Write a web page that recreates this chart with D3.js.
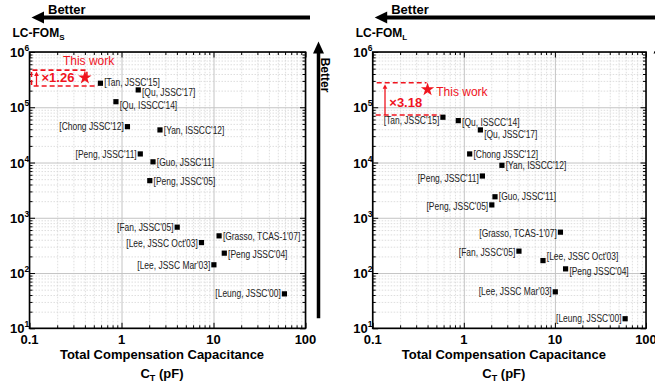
<!DOCTYPE html>
<html><head><meta charset="utf-8">
<script src="https://cdn.jsdelivr.net/npm/d3@7"></script>
<style>body{margin:0;background:#fff}svg{display:block}</style>
</head><body><svg id="c" width="655" height="384"></svg>
<script>
// ---------------- data ----------------
const refs = ["[Tan, JSSC'15]", "[Qu, ISSCC'14]", "[Qu, JSSC'17]", "[Chong JSSC'12]", "[Yan, ISSCC'12]",
  "[Peng, JSSC'11]", "[Guo, JSSC'11]", "[Peng, JSSC'05]", "[Fan, JSSC'05]", "[Grasso, TCAS-1'07]",
  "[Lee, JSSC Oct'03]", "[Peng JSSC'04]", "[Lee, JSSC Mar'03]", "[Leung, JSSC'00]"];
const ctPF = [0.59, 0.87, 1.52, 1.16, 2.62, 1.6, 2.2, 2.03, 4.03, 11.5, 7.4, 13.1, 10.1, 59];
const fomS = [2.72e5, 1.26e5, 2.06e5, 4.46e4, 3.89e4, 1.43e4, 1.03e4, 4.7e3, 676, 471, 356, 229, 141, 42];
const fomL = [6.6e4, 5.73e4, 3.89e4, 1.43e4, 8.9e3, 5.7e3, 2.4e3, 1.71e3, 249, 549, 168, 119, 45.7, 14.9];
const thisWorkCT = 0.4;
const thisWorkS = 3.43e5;
const thisWorkL = 2.1e5;
const ratioS = "×1.26";
const ratioL = "×3.18";
const xTicks = [0.1, 1, 10, 100];
const xTickLabels = ["0.1", "1", "10", "100"];
const yTicks = [10, 100, 1e3, 1e4, 1e5, 1e6];
const yTickExps = ["1", "2", "3", "4", "5", "6"];

// label layout (side of marker, vertical nudge)
const sideS = ["r","r","r","l","r","l","r","r","l","r","l","r","l","l"];
const nudgeS = [-1, 3.5, 2.5, 0, 0.5, 0.5, 0.5, 1, 0, 0.5, 1.2, 1, 0.5, 0];
const sideL = ["l","r","r","r","r","l","r","l","l","l","r","r","l","l"];
const nudgeL = [2.7, 2, 4, 0, 0, 2, 0, 1, 1, 1, -4, 2.7, 0, 0];

// ---------------- drawing ----------------
const svg = d3.select("#c");
const RED = "#f0141e";
const BOLD = "'Liberation Sans', Arial, sans-serif";

// narrow font detection
let narrowOK = false;
{
  const t1 = svg.append("text").style("font-family", "'Liberation Sans Narrow'").style("font-size", "10px").text("[Tan, JSSC'15]");
  const t2 = svg.append("text").style("font-family", "'Liberation Sans'").style("font-size", "10px").text("[Tan, JSSC'15]");
  narrowOK = t1.node().getComputedTextLength() < 0.9 * t2.node().getComputedTextLength();
  t1.remove(); t2.remove();
}

function minorVals(lo, hi) {
  const out = [];
  for (let d = lo; d < hi; d *= 10) for (let k = 2; k <= 9; k++) out.push(d * k);
  return out;
}

function arrowHeadPath(tx, ty, dir, len, half) {
  if (dir === "left") return `M${tx},${ty}L${tx + len},${ty - half}L${tx + len},${ty + half}Z`;
  return `M${tx},${ty}L${tx - half},${ty + len}L${tx + half},${ty + len}Z`;
}

function panel(opt) {
  const { x0, x1, y0, y1, fom, side, nudge, tw, ratio, sub, annot } = opt;
  const g = svg.append("g");
  const x = d3.scaleLog().domain([0.1, 100]).range([x0, x1]);
  const y = d3.scaleLog().domain([10, 1e6]).range([y1, y0]);
  const W = x1 - x0, H = y1 - y0;
  const mx = minorVals(0.1, 100), my = minorVals(10, 1e6);

  const style = (sel, col, dash, w) => {
    sel.select(".domain").remove();
    sel.selectAll("line").attr("stroke", col).attr("stroke-width", w).attr("stroke-dasharray", dash);
    sel.selectAll("text").remove();
  };
  // minor grid
  g.append("g").attr("transform", `translate(0,${y1})`)
    .call(d3.axisBottom(x).tickValues(mx).tickSize(-H).tickFormat(""))
    .call(s => style(s, "#d6d6d6", "1.5,1.5", 0.8));
  g.append("g").attr("transform", `translate(${x0},0)`)
    .call(d3.axisLeft(y).tickValues(my).tickSize(-W).tickFormat(""))
    .call(s => style(s, "#d6d6d6", "1.5,1.5", 0.8));
  // major grid
  g.append("g").attr("transform", `translate(0,${y1})`)
    .call(d3.axisBottom(x).tickValues(xTicks).tickSize(-H).tickFormat(""))
    .call(s => style(s, "#c4c4c4", null, 1));
  g.append("g").attr("transform", `translate(${x0},0)`)
    .call(d3.axisLeft(y).tickValues(yTicks).tickSize(-W).tickFormat(""))
    .call(s => style(s, "#c4c4c4", null, 1));

  // inside ticks on all 4 sides
  const tk = (axisFn, scale, vals, len, tr) => {
    g.append("g").attr("transform", tr)
      .call(axisFn(scale).tickValues(vals).tickSizeInner(-len).tickSizeOuter(0).tickFormat(""))
      .call(s => style(s, "#000", null, 1));
  };
  tk(d3.axisBottom, x, mx, 3, `translate(0,${y1})`);
  tk(d3.axisBottom, x, xTicks, 5.5, `translate(0,${y1})`);
  tk(d3.axisTop, x, mx, 3, `translate(0,${y0})`);
  tk(d3.axisTop, x, xTicks, 5.5, `translate(0,${y0})`);
  tk(d3.axisLeft, y, my, 3, `translate(${x0},0)`);
  tk(d3.axisLeft, y, yTicks, 5.5, `translate(${x0},0)`);
  tk(d3.axisRight, y, my, 3, `translate(${x1},0)`);
  tk(d3.axisRight, y, yTicks, 5.5, `translate(${x1},0)`);

  // frame
  g.append("rect").attr("x", x0).attr("y", y0).attr("width", W).attr("height", H)
    .attr("fill", "none").attr("stroke", "#000").attr("stroke-width", 1.6);

  // x tick labels
  g.selectAll(".xl").data(xTicks).join("text")
    .attr("x", d => x(d)).attr("y", y1 + 16).attr("text-anchor", "middle")
    .style("font-family", BOLD).style("font-weight", "bold").style("font-size", "13px")
    .text((d, i) => xTickLabels[i]);
  // y tick labels
  const yl = g.selectAll(".yl").data(yTicks).join("text")
    .attr("x", x0 - 19.5).attr("y", d => y(d) + 5).attr("text-anchor", "start")
    .style("font-family", BOLD).style("font-weight", "bold").style("font-size", "13px");
  yl.append("tspan").text("10");
  yl.append("tspan").attr("dy", -6).style("font-size", "8.5px").text((d, i) => yTickExps[i]);

  // axis titles
  const cx = (x0 + x1) / 2 - 5.5;
  g.append("text").attr("x", cx).attr("y", y1 + 31).attr("text-anchor", "middle")
    .style("font-family", BOLD).style("font-weight", "bold").style("font-size", "13px")
    .text("Total Compensation Capacitance");
  const ct = g.append("text").attr("x", cx).attr("y", y1 + 50).attr("text-anchor", "middle")
    .style("font-family", BOLD).style("font-weight", "bold").style("font-size", "13px");
  ct.append("tspan").text("C");
  ct.append("tspan").attr("dy", 3).style("font-size", "9px").text("T");
  ct.append("tspan").attr("dy", -3).text(" (pF)");

  // y title
  const yt = g.append("text").attr("x", x0 - 17).attr("y", 37)
    .style("font-family", BOLD).style("font-weight", "bold").style("font-size", "12px");
  yt.append("tspan").text("LC-FOM");
  yt.append("tspan").attr("dy", 2.5).style("font-size", "8px").text(sub);

  // top "Better" arrow
  g.append("line").attr("x1", x0 + 12).attr("x2", opt.topEnd).attr("y1", 17.5).attr("y2", 17.5)
    .attr("stroke", "#000").attr("stroke-width", 4);
  g.append("path").attr("d", arrowHeadPath(x0 + 2, 17.5, "left", 12.5, 6)).attr("fill", "#000");
  g.append("text").attr("x", x0 + 18.5).attr("y", 14)
    .style("font-family", BOLD).style("font-weight", "bold").style("font-size", "13px").text("Better");

  // right vertical "Better" arrow
  const vx = x1 + 13;
  g.append("line").attr("x1", vx).attr("x2", vx).attr("y1", y0 + 1).attr("y2", y1 - 10)
    .attr("stroke", "#000").attr("stroke-width", 3.5);
  g.append("path").attr("d", arrowHeadPath(vx, y0 - 10.5, "up", 12, 5.5)).attr("fill", "#000");
  if (opt.showVLabel) {
    g.append("text").attr("transform", `translate(${vx + 2.5},75) rotate(90)`).attr("text-anchor", "middle")
      .style("font-family", BOLD).style("font-weight", "bold").style("font-size", "12px").text("Better");
  }

  // markers
  const pts = ctPF.map((c, i) => ({ c, v: fom[i], name: refs[i], side: side[i], nudge: nudge[i] }));
  g.selectAll(".m").data(pts).join("rect")
    .attr("x", d => x(d.c) - 2.6).attr("y", d => y(d.v) - 2.6).attr("width", 5.2).attr("height", 5.2)
    .attr("fill", "#000");
  const lab = g.selectAll(".lb").data(pts).join("text")
    .attr("x", d => d.side === "r" ? x(d.c) + 3.8 : x(d.c) - 3.6)
    .attr("y", d => y(d.v) + d.nudge + 3.6)
    .attr("text-anchor", d => d.side === "r" ? "start" : "end")
    .style("font-size", "10.3px").attr("fill", "#222")
    .text(d => d.name);
  if (narrowOK) {
    lab.style("font-family", "'Liberation Sans Narrow', 'Arial Narrow', sans-serif");
  } else {
    lab.style("font-family", "'Liberation Sans', Arial, sans-serif");
    lab.each(function () {
      const L = this.getComputedTextLength();
      d3.select(this).attr("textLength", L * 0.82).attr("lengthAdjust", "spacingAndGlyphs");
    });
  }

  // this work star
  const sx = x(thisWorkCT), sy = y(tw);
  g.append("path").attr("transform", `translate(${sx},${sy})`)
    .attr("d", d3.symbol().type(d3.symbolStar).size(56)()).attr("fill", RED);

  // annotation
  const tanX = x(ctPF[0]), tanY = y(fom[0]);
  annot(g, { x0, sx, sy, tanX, tanY, ratio });
}

function redArrow(g, ax, yb, yt) {
  g.append("line").attr("x1", ax).attr("x2", ax).attr("y1", yb).attr("y2", yt + 4)
    .attr("stroke", RED).attr("stroke-width", 1.3);
  g.append("path").attr("d", arrowHeadPath(ax, yt, "up", 4.5, 2.3)).attr("fill", RED);
}

// left panel (LC-FOM_S)
panel({
  x0: 29.5, x1: 305.5, y0: 52, y1: 328.3, fom: fomS, side: sideS, nudge: nudgeS, tw: thisWorkS,
  ratio: ratioS, sub: "S", topEnd: 310, showVLabel: true,
  annot: (g, a) => {
    const top = a.sy - 7.6, bot = a.tanY + 2.7;
    g.append("path")
      .attr("d", `M${a.sx + 2},${a.sy - 1}V${top}H${a.x0 + 2}V${bot}H${a.tanX - 2.6}`)
      .attr("fill", "none").attr("stroke", RED).attr("stroke-width", 1.6).attr("stroke-dasharray", "5,3");
    redArrow(g, a.x0 + 7, bot, top + 1.5);
    g.append("text").attr("x", a.x0 + 12).attr("y", bot - 3.7).attr("fill", RED)
      .style("font-family", BOLD).style("font-weight", "bold").style("font-size", "13px").text(a.ratio);
    g.append("text").attr("x", a.sx - 22).attr("y", a.sy - 12.5).attr("fill", RED)
      .style("font-family", BOLD).style("font-size", "12px").text("This work");
  }
});

// right panel (LC-FOM_L)
panel({
  x0: 372.7, x1: 646, y0: 52, y1: 328.3, fom: fomL, side: sideL, nudge: nudgeL, tw: thisWorkL,
  ratio: ratioL, sub: "L", topEnd: 660, showVLabel: false,
  annot: (g, a) => {
    const top = a.sy - 6.7, bot = a.tanY - 2.3;
    g.append("path").attr("d", `M${a.x0 + 4},${top}H${a.sx - 1}`)
      .attr("fill", "none").attr("stroke", RED).attr("stroke-width", 1.6).attr("stroke-dasharray", "5,3");
    g.append("path").attr("d", `M${a.x0 + 3},${bot}H${a.tanX - 2.6}`)
      .attr("fill", "none").attr("stroke", RED).attr("stroke-width", 1.6).attr("stroke-dasharray", "5,3");
    redArrow(g, a.x0 + 12.3, bot, top + 1.5);
    g.append("text").attr("x", a.x0 + 16.6).attr("y", bot - 7.7).attr("fill", RED)
      .style("font-family", BOLD).style("font-weight", "bold").style("font-size", "13px").text(a.ratio);
    g.append("text").attr("x", a.sx + 8.7).attr("y", a.sy + 6.3).attr("fill", RED)
      .style("font-family", BOLD).style("font-size", "12px").text("This work");
  }
});
</script></body></html>
